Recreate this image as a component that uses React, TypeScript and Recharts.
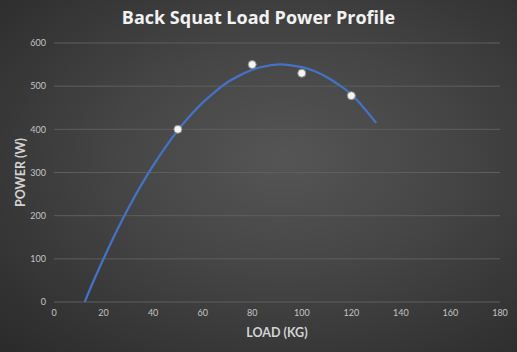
import { ComposedChart, Line, Scatter, XAxis, YAxis, CartesianGrid } from 'recharts'

// measured load / power
const loads = [50, 80, 100, 120]
const powers = [400, 550, 530, 478]

// polynomial trendline
const trendLoads = [12.4, 15, 20, 25, 30, 35, 40, 45, 50, 55, 60, 65, 70, 75, 80, 85, 90, 95, 100, 105, 110, 115, 120, 125, 130]
const trendPowers = [0, 36, 100, 161, 217, 269, 316, 359, 398, 432, 462, 487, 509, 525, 538, 546, 550, 549, 544, 535, 521, 503, 481, 450, 415]

const xTicks = [0, 20, 40, 60, 80, 100, 120, 140, 160, 180]
const yTicks = [0, 100, 200, 300, 400, 500, 600]

const points = loads.map((x, i) => ({ x, y: powers[i] }))
const trend = trendLoads.map((x, i) => ({ x, y: trendPowers[i] }))

const font = 'Lato, "Open Sans", sans-serif'

const Dot = (props: any) => {
  const { cx, cy } = props
  if (cx == null || cy == null) return null
  return <circle cx={cx} cy={cy} r={4} fill="#f4f4f4" stroke="#8a8a8a" strokeWidth={1} />
}

export default function App() {
  return (
    <div
      style={{
        position: 'absolute',
        left: 0,
        top: 0,
        width: 517,
        height: 352,
        background: 'radial-gradient(ellipse at 55% 45%, #555555 0%, #464646 40%, #2a2a2a 100%)',
        fontFamily: font,
      }}
    >
      <div
        style={{
          position: 'absolute',
          top: 5,
          left: 0,
          width: 517,
          textAlign: 'center',
          color: '#f2f2f2',
          fontWeight: 700,
          fontSize: 18,
          fontFamily: '"Open Sans", sans-serif',
        }}
      >
        Back Squat Load Power Profile
      </div>
      <ComposedChart width={517} height={352} margin={{ top: 43, right: 17, bottom: 0, left: 0 }}>
        <CartesianGrid vertical={false} stroke="#5e5e5e" strokeWidth={1} />
        <XAxis
          dataKey="x"
          type="number"
          domain={[0, 180]}
          ticks={xTicks}
          tick={{ fontSize: 9, fill: '#c4c4c4', fontFamily: font }}
          tickLine={false}
          axisLine={false}
          tickSize={0}
          tickMargin={8}
          height={50}
          label={{
            value: 'LOAD (KG)',
            position: 'insideBottom',
            offset: 15,
            style: { fontSize: 12.5, fontWeight: 700, fill: '#d4d4d4', fontFamily: font },
          }}
        />
        <YAxis
          type="number"
          domain={[0, 600]}
          ticks={yTicks}
          tick={{ fontSize: 9, fill: '#c4c4c4', fontFamily: font }}
          tickLine={false}
          axisLine={false}
          tickSize={0}
          tickMargin={8}
          width={54}
          label={{
            value: 'POWER (W)',
            angle: -90,
            position: 'insideLeft',
            offset: 21,
            style: { textAnchor: 'middle', fontSize: 12.5, fontWeight: 700, fill: '#d4d4d4', fontFamily: font },
          }}
        />
        <Line
          data={trend}
          dataKey="y"
          type="natural"
          stroke="#4472c4"
          strokeWidth={2.25}
          dot={false}
          activeDot={false}
          isAnimationActive={false}
        />
        <Scatter data={points} dataKey="y" shape={<Dot />} isAnimationActive={false} />
      </ComposedChart>
    </div>
  )
}
